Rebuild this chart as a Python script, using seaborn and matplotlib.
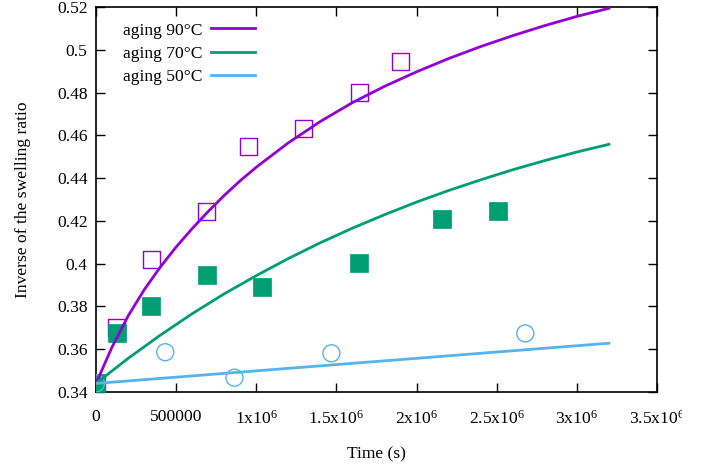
import matplotlib
matplotlib.use("Agg")
import matplotlib.pyplot as plt
import seaborn as sns
from matplotlib.patches import Rectangle

# measured points (time in s, inverse swelling ratio)
t90 = [0, 129600, 345600, 691200, 950400, 1296000, 1641600, 1900800]
q90 = [0.344, 0.370, 0.402, 0.4246, 0.4547, 0.463, 0.480, 0.4945]
t70 = [0, 129600, 345600, 691200, 1036800, 1641600, 2160000, 2505600]
q70 = [0.344, 0.3677, 0.3802, 0.3947, 0.3892, 0.4005, 0.4207, 0.4248]
t50 = [0, 432000, 864000, 1468800, 2678400]
q50 = [0.344, 0.3586, 0.3467, 0.3581, 0.3674]

# fitted curves
fit_t90 = [0, 1e5, 2e5, 3e5, 4e5, 5e5, 6e5, 7e5, 8e5, 9e5, 1e6, 1.2e6, 1.4e6,
           1.6e6, 1.8e6, 2.0e6, 2.2e6, 2.4e6, 2.6e6, 2.8e6, 3.0e6, 3.2e6]
fit_q90 = [0.344, 0.361, 0.3755, 0.3877, 0.3983, 0.4078, 0.4164, 0.4244,
           0.4319, 0.4388, 0.4451, 0.4565, 0.4665, 0.4753, 0.4829, 0.4897,
           0.4959, 0.5015, 0.5066, 0.5113, 0.5156, 0.5194]
fit_t70 = [0, 2e5, 4e5, 6e5, 8e5, 1e6, 1.2e6, 1.4e6, 1.6e6, 1.8e6, 2.0e6,
           2.2e6, 2.4e6, 2.6e6, 2.8e6, 3.0e6, 3.2e6]
fit_q70 = [0.344, 0.3557, 0.3665, 0.3766, 0.3859, 0.3944, 0.4024, 0.4098,
           0.4166, 0.4229, 0.4288, 0.4342, 0.4392, 0.4439, 0.4482, 0.4522,
           0.4558]
fit_t50 = [0, 8e5, 1.6e6, 2.4e6, 3.2e6]
fit_q50 = [0.344, 0.3487, 0.3534, 0.3581, 0.3628]

labels = ["aging 90°C", "aging 70°C", "aging 50°C"]
colors = ["#9400d3", "#009e73", "#56b4e9"]

xticks = [0, 500000, 1000000, 1500000, 2000000, 2500000, 3000000, 3500000]
xticklabels = ["0", "500000", r"1x10$\mathregular{^{6}}$", r"1.5x10$\mathregular{^{6}}$",
               r"2x10$\mathregular{^{6}}$", r"2.5x10$\mathregular{^{6}}$",
               r"3x10$\mathregular{^{6}}$", r"3.5x10$\mathregular{^{6}}$"]
yticks = [0.34, 0.36, 0.38, 0.40, 0.42, 0.44, 0.46, 0.48, 0.50, 0.52]

plt.rcParams['font.family'] = ['Liberation Serif', 'DejaVu Serif']
plt.rcParams['font.size'] = 12.6

fig = plt.figure(figsize=(7.19, 4.70), dpi=100)
ax = fig.add_axes([96 / 719, 1 - 392 / 470, 561 / 719, 385 / 470])

# points
sns.scatterplot(x=t90, y=q90, marker='s', s=150, facecolor='none',
                edgecolor=colors[0], linewidth=1.0, ax=ax, zorder=3)
sns.scatterplot(x=t70, y=q70, marker='s', s=150, color=colors[1],
                edgecolor=colors[1], linewidth=0.5, ax=ax, zorder=3)
sns.scatterplot(x=t50, y=q50, marker='o', s=150, facecolor='none',
                edgecolor=colors[2], linewidth=1.0, ax=ax, zorder=3)

# fitted lines
fits = [(fit_t90, fit_q90), (fit_t70, fit_q70), (fit_t50, fit_q50)]
for (ft, fq), lab, c in zip(fits, labels, colors):
    sns.lineplot(x=ft, y=fq, color=c, linewidth=2, label=lab, ax=ax,
                 sort=False, zorder=4)

ax.set_xlim(0, 3500000)
ax.set_ylim(0.34, 0.52)
ax.set_xticks(xticks)
ax.set_xticklabels(xticklabels)
ax.set_yticks(yticks)
ax.set_yticklabels(["%g" % v for v in yticks])
ax.tick_params(direction='in', length=6.5, width=1, top=True, right=True)
ax.tick_params(axis='x', pad=12.5)
ax.tick_params(axis='y', pad=6)
for sp in ax.spines.values():
    sp.set_linewidth(1.2)

ax.set_xlabel("Time (s)")
ax.set_ylabel("Inverse of the swelling ratio")
ax.xaxis.set_label_coords(0.5, -0.14)
ax.yaxis.set_label_coords(-0.116, 0.5)

ax.legend(loc='upper left', bbox_to_anchor=(0.026, 0.992), frameon=False,
          markerfirst=False, handlelength=2.5, labelspacing=0.4,
          handletextpad=0.5, borderaxespad=0.3)

# the reference canvas ends just after the last tick label
fig.patches.append(Rectangle((682 / 719, 0), 1, 1, transform=fig.transFigure,
                             facecolor='white', edgecolor='none', zorder=10))

fig.savefig("out.png", dpi=100)
